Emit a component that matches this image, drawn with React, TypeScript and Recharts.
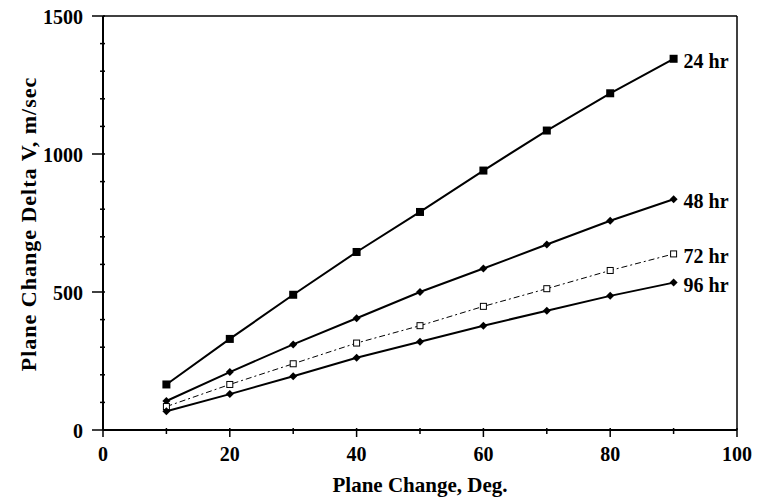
import { LineChart, Line, XAxis, YAxis, ReferenceLine } from 'recharts';

const degrees = [10, 20, 30, 40, 50, 60, 70, 80, 90];
const hr24 = [165, 330, 490, 645, 790, 940, 1085, 1220, 1345];
const hr48 = [105, 210, 310, 405, 500, 585, 672, 758, 836];
const hr72 = [85, 165, 240, 315, 378, 448, 512, 578, 638];
const hr96 = [68, 130, 195, 262, 320, 378, 432, 486, 534];
const xTicks = [0, 10, 20, 30, 40, 50, 60, 70, 80, 90, 100];
const yTicks = [0, 100, 200, 300, 400, 500, 600, 700, 800, 900, 1000, 1100, 1200, 1300, 1400, 1500];

const data = degrees.map((d, i) => ({ deg: d, h24: hr24[i], h48: hr48[i], h72: hr72[i], h96: hr96[i] }));

const FONT = '"Liberation Serif", "Times New Roman", serif';
const last = degrees.length - 1;

function endLabel(cx: number, cy: number, text: string) {
  return (
    <text x={cx + 10} y={cy + 2} dominantBaseline="central" fontFamily={FONT} fontWeight="bold" fontSize={20} fill="#000">
      {text}
    </text>
  );
}

const squareDot = (props: any) => {
  const { cx, cy, index } = props;
  return (
    <g key={`s-${index}`}>
      <rect x={cx - 4} y={cy - 4} width={8} height={8} fill="#000" />
      {index === last && endLabel(cx, cy, '24 hr')}
    </g>
  );
};

const diamondDot = (name: string) => (props: any) => {
  const { cx, cy, index } = props;
  return (
    <g key={`${name}-${index}`}>
      <polygon points={`${cx},${cy - 4} ${cx + 4},${cy} ${cx},${cy + 4} ${cx - 4},${cy}`} fill="#000" />
      {index === last && endLabel(cx, cy, name)}
    </g>
  );
};

const openDot = (props: any) => {
  const { cx, cy, index } = props;
  return (
    <g key={`o-${index}`}>
      <rect x={cx - 3} y={cy - 3} width={6} height={6} fill="#fff" stroke="#000" strokeWidth={1} />
      {index === last && endLabel(cx, cy, '72 hr')}
    </g>
  );
};

const XTick = (props: any) => {
  const { x, y, payload } = props;
  const major = payload.value % 20 === 0;
  return (
    <g>
      <line x1={x} x2={x} y1={y - 2} y2={y + (major ? 7 : 4)} stroke="#000" strokeWidth={1.5} />
      {major && (
        <text x={x} y={y + 31} textAnchor="middle" fontFamily={FONT} fontWeight="bold" fontSize={20} fill="#000">
          {payload.value}
        </text>
      )}
    </g>
  );
};

const YTick = (props: any) => {
  const { x, y, payload } = props;
  const major = payload.value % 500 === 0;
  return (
    <g>
      <line x1={x - (major ? 11 : 3)} x2={x + 2} y1={y} y2={y} stroke="#000" strokeWidth={1.5} />
      {major && (
        <text x={x - 20} y={y + 1} dominantBaseline="central" textAnchor="end" fontFamily={FONT} fontWeight="bold" fontSize={20} fill="#000">
          {payload.value}
        </text>
      )}
    </g>
  );
};

const YTitle = () => (
  <text
    x={28}
    y={224}
    transform="rotate(-90 28 224)"
    textAnchor="middle"
    dominantBaseline="central"
    fontFamily={FONT}
    fontWeight="bold"
    fontSize={22}
    letterSpacing={1}
    fill="#000"
  >
    Plane Change Delta V, m/sec
  </text>
);

export default function App() {
  return (
    <div style={{ position: 'absolute', left: 0, top: 0, width: 760, height: 503, background: '#fff' }}>
      <LineChart width={760} height={503} data={data} margin={{ top: 16, right: 23, bottom: 0, left: 0 }}>
        <XAxis
          dataKey="deg"
          type="number"
          domain={[0, 100]}
          ticks={xTicks}
          tick={<XTick />}
          tickLine={false}
          tickSize={0}
          tickMargin={0}
          height={73}
          stroke="#000"
          strokeWidth={2}
          label={{ value: 'Plane Change, Deg.', position: 'insideBottom', offset: 11, fill: '#000', fontFamily: FONT, fontWeight: 'bold', fontSize: 21 }}
        />
        <YAxis
          type="number"
          domain={[0, 1500]}
          ticks={yTicks}
          tick={<YTick />}
          tickLine={false}
          tickSize={0}
          tickMargin={0}
          width={103}
          stroke="#000"
          strokeWidth={2}
          label={<YTitle />}
        />
        <ReferenceLine y={1500} stroke="#000" strokeWidth={1.5} />
        <ReferenceLine x={100} stroke="#000" strokeWidth={1.5} />
        <Line dataKey="h24" stroke="#000" strokeWidth={2} dot={squareDot} isAnimationActive={false} />
        <Line dataKey="h48" stroke="#000" strokeWidth={2} dot={diamondDot('48 hr')} isAnimationActive={false} />
        <Line dataKey="h72" stroke="#000" strokeWidth={1} strokeDasharray="6 3 2 3" dot={openDot} isAnimationActive={false} />
        <Line dataKey="h96" stroke="#000" strokeWidth={2} dot={diamondDot('96 hr')} isAnimationActive={false} />
      </LineChart>
    </div>
  );
}
